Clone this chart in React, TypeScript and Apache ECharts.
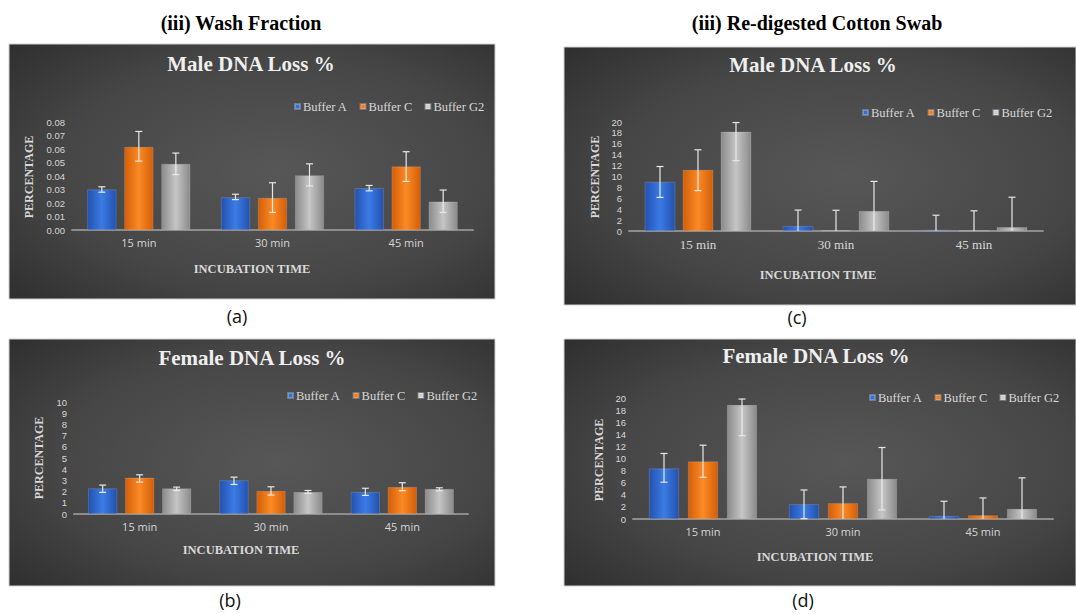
import React, { useEffect, useRef } from "react";
import * as echarts from "echarts";

// ---------- DATA ----------
const categories = ["15 min", "30 min", "45 min"];
const seriesNames = ["Buffer A", "Buffer C", "Buffer G2"];

// (a) Wash Fraction - Male DNA Loss %
const aBufferA = [0.03, 0.0242, 0.031];
const aBufferC = [0.0615, 0.0237, 0.047];
const aBufferG2 = [0.049, 0.0405, 0.021];
const aErrA = [[0.028, 0.032], [0.0225, 0.0265], [0.029, 0.033]];
const aErrC = [[0.051, 0.073], [0.013, 0.035], [0.036, 0.058]];
const aErrG2 = [[0.041, 0.057], [0.0326, 0.049], [0.013, 0.0296]];

// (b) Wash Fraction - Female DNA Loss %
const bBufferA = [2.28, 3.0, 1.96];
const bBufferC = [3.23, 2.05, 2.4];
const bBufferG2 = [2.28, 1.96, 2.23];
const bErrA = [[1.93, 2.58], [2.64, 3.29], [1.66, 2.3]];
const bErrC = [[2.85, 3.5], [1.69, 2.43], [2.08, 2.79]];
const bErrG2 = [[2.1, 2.4], [1.84, 2.1], [2.08, 2.34]];

// (c) Re-digested Cotton Swab - Male DNA Loss %
const cBufferA = [9.02, 0.9, 0.2];
const cBufferC = [11.2, 0.1, 0.05];
const cBufferG2 = [18.2, 3.66, 0.7];
const cErrA = [[6.16, 11.83], [0, 3.84], [0, 2.9]];
const cErrC = [[7.4, 14.9], [0, 3.8], [0, 3.7]];
const cErrG2 = [[12.9, 19.9], [0, 9.1], [0, 6.2]];

// (d) Re-digested Cotton Swab - Female DNA Loss %
const dBufferA = [8.34, 2.43, 0.5];
const dBufferC = [9.5, 2.6, 0.6];
const dBufferG2 = [18.84, 6.63, 1.66];
const dErrA = [[6.08, 10.83], [0.05, 4.8], [0, 2.93]];
const dErrC = [[6.9, 12.2], [0, 5.3], [0, 3.48]];
const dErrG2 = [[13.76, 19.83], [1.5, 11.82], [0, 6.8]];

const yTicksA = { max: 0.08, interval: 0.01, digits: 2 };
const yTicksB = { max: 10, interval: 1, digits: 0 };
const yTicksC = { max: 20, interval: 2, digits: 0 };
const yTicksD = { max: 20, interval: 2, digits: 0 };

// ---------- STYLE ----------
const SERIF = "'Liberation Serif', 'Times New Roman', serif";
const SANS = "'Open Sans', 'Noto Sans', sans-serif";
const TICKSANS = "'Liberation Sans', Arial, sans-serif";

const barFill = (edge: string, mid: string) =>
  new echarts.graphic.LinearGradient(0, 0, 1, 0, [
    { offset: 0, color: edge },
    { offset: 0.5, color: mid },
    { offset: 1, color: edge },
  ]);

const colorsEdge = ["#2352b0", "#d45e08", "#8a8a8a"];
const colorsMid = ["#3b7be4", "#fb8a26", "#c6c6c6"];
const legendColors = ["#3070da", "#f47b1c", "#cfcfcf"];

type Panel = {
  grid: { left: number; top: number; width: number; height: number };
  box: { x: number; y: number; w: number; h: number };
  values: number[][];
  errs: number[][][];
  ticks: { max: number; interval: number; digits: number };
  barWidth: number;
  gapPx: number;
  legendLeft: number;
  legendTop: number;
  xLabelSerif: boolean;
  xLabelSize: number;
  title: string;
  titlePos: [number, number];
  yName: [number, number];
  xName: [number, number];
  label: string;
  labelPos: [number, number];
};

const panels: Panel[] = [
  {
    grid: { left: 72, top: 122, width: 401, height: 108 },
    box: { x: 9, y: 44, w: 486, h: 255 },
    values: [aBufferA, aBufferC, aBufferG2],
    errs: [aErrA, aErrC, aErrG2],
    ticks: yTicksA,
    barWidth: 29,
    gapPx: 8,
    legendLeft: 289,
    legendTop: 95,
    xLabelSerif: false,
    xLabelSize: 11,
    title: "Male DNA Loss %",
    titlePos: [251, 64],
    yName: [29, 177],
    xName: [252, 269],
    label: "(a)",
    labelPos: [237, 316],
  },
  {
    grid: { left: 74, top: 402, width: 394, height: 112 },
    box: { x: 9, y: 339, w: 486, h: 247 },
    values: [bBufferA, bBufferC, bBufferG2],
    errs: [bErrA, bErrC, bErrG2],
    ticks: yTicksB,
    barWidth: 29,
    gapPx: 8,
    legendLeft: 282,
    legendTop: 384,
    xLabelSerif: false,
    xLabelSize: 11,
    title: "Female DNA Loss %",
    titlePos: [252, 358],
    yName: [39, 458],
    xName: [241, 550],
    label: "(b)",
    labelPos: [230, 600],
  },
  {
    grid: { left: 629, top: 122, width: 414, height: 109 },
    box: { x: 564, y: 47, w: 512, h: 258 },
    values: [cBufferA, cBufferC, cBufferG2],
    errs: [cErrA, cErrC, cErrG2],
    ticks: yTicksC,
    barWidth: 30.5,
    gapPx: 7.5,
    legendLeft: 857,
    legendTop: 101,
    xLabelSerif: true,
    xLabelSize: 13,
    title: "Male DNA Loss %",
    titlePos: [813, 65],
    yName: [595, 177],
    xName: [818, 275],
    label: "(c)",
    labelPos: [797, 317],
  },
  {
    grid: { left: 633, top: 398, width: 420, height: 121 },
    box: { x: 564, y: 339, w: 512, h: 247 },
    values: [dBufferA, dBufferC, dBufferG2],
    errs: [dErrA, dErrC, dErrG2],
    ticks: yTicksD,
    barWidth: 30,
    gapPx: 9,
    legendLeft: 864,
    legendTop: 386,
    xLabelSerif: false,
    xLabelSize: 11,
    title: "Female DNA Loss %",
    titlePos: [816, 356],
    yName: [599, 460],
    xName: [815, 557],
    label: "(d)",
    labelPos: [803, 600],
  },
];

function buildOption() {
  const grid: any[] = [];
  const xAxis: any[] = [];
  const yAxis: any[] = [];
  const series: any[] = [];
  const legend: any[] = [];
  const elements: any[] = [];

  panels.forEach((p, gi) => {
    grid.push({ ...p.grid, containLabel: false });
    xAxis.push({
      type: "category",
      gridIndex: gi,
      data: categories,
      axisLine: { lineStyle: { color: "#8c8c8c", width: 2 } },
      axisTick: { show: false },
      axisLabel: {
        color: "#d6d6d6",
        fontFamily: p.xLabelSerif ? SERIF : SANS,
        fontSize: p.xLabelSize,
        margin: 7,
      },
    });
    yAxis.push({
      type: "value",
      gridIndex: gi,
      min: 0,
      max: p.ticks.max,
      interval: p.ticks.interval,
      splitLine: { show: false },
      axisLine: { show: false },
      axisTick: { show: false },
      axisLabel: {
        color: "#d6d6d6",
        fontFamily: TICKSANS,
        fontSize: 9.5,
        lineHeight: 10,
        margin: 7,
        formatter: (v: number) => v.toFixed(p.ticks.digits),
      },
    });
    const pitch = p.barWidth + p.gapPx;
    seriesNames.forEach((name, k) => {
      series.push({
        type: "bar",
        name,
        xAxisIndex: gi,
        yAxisIndex: gi,
        data: p.values[k],
        barWidth: p.barWidth,
        barGap: `${(p.gapPx / p.barWidth) * 100}%`,
        itemStyle: {
          color: barFill(colorsEdge[k], colorsMid[k]),
          borderColor: "rgba(255,255,255,0.25)",
          borderWidth: 0.6,
        },
        z: 3,
      });
      const offset = (k - 1) * pitch;
      series.push({
        type: "custom",
        name: name + " error",
        xAxisIndex: gi,
        yAxisIndex: gi,
        data: p.errs[k].map((e, i) => [i, e[0], e[1]]),
        encode: { x: 0, y: [1, 2] },
        z: 5,
        renderItem: (params: any, api: any) => {
          const i = api.value(0);
          const lo = api.value(1);
          const hi = api.value(2);
          const t = api.coord([i, hi]);
          const b = api.coord([i, lo]);
          const x = t[0] + offset;
          const cap = 3.5;
          const st = { stroke: "#e8e8e8", lineWidth: 1.2 };
          const children: any[] = [
            { type: "line", shape: { x1: x, y1: t[1], x2: x, y2: b[1] }, style: st },
            { type: "line", shape: { x1: x - cap, y1: t[1], x2: x + cap, y2: t[1] }, style: st },
          ];
          if (lo > 0) {
            children.push({
              type: "line",
              shape: { x1: x - cap, y1: b[1], x2: x + cap, y2: b[1] },
              style: st,
            });
          }
          return { type: "group", children };
        },
      });
    });
    legend.push({
      left: p.legendLeft,
      top: p.legendTop,
      orient: "horizontal",
      icon: "rect",
      itemWidth: 5,
      itemHeight: 5,
      itemGap: 12,
      textStyle: { color: "#d8d8d8", fontFamily: SERIF, fontSize: 12.5, padding: [0, 0, 0, -2] },
      data: seriesNames.map((n, k) => ({ name: n, itemStyle: { color: legendColors[k] } })),
      selectedMode: false,
    });

    elements.push({
      type: "rect",
      z: -10,
      shape: { x: p.box.x, y: p.box.y, width: p.box.w, height: p.box.h },
      style: {
        fill: new echarts.graphic.RadialGradient(0.55, 0.5, 0.75, [
          { offset: 0, color: "#575757" },
          { offset: 0.6, color: "#464646" },
          { offset: 1, color: "#2e2e2e" },
        ]),
        stroke: "#cfcfcf",
        lineWidth: 1,
      },
    });
    elements.push({
      type: "text",
      z: 1,
      x: p.titlePos[0],
      y: p.titlePos[1],
      style: {
        text: p.title,
        fill: "#efefef",
        font: `bold 21px ${SERIF}`,
        align: "center",
        verticalAlign: "middle",
      },
    });
    elements.push({
      type: "text",
      z: 1,
      x: p.yName[0],
      y: p.yName[1],
      rotation: Math.PI / 2,
      style: {
        text: "PERCENTAGE",
        fill: "#d8d8d8",
        font: `bold 12px ${SERIF}`,
        align: "center",
        verticalAlign: "middle",
      },
    });
    elements.push({
      type: "text",
      z: 1,
      x: p.xName[0],
      y: p.xName[1],
      style: {
        text: "INCUBATION TIME",
        fill: "#d8d8d8",
        font: `bold 12.5px ${SERIF}`,
        align: "center",
        verticalAlign: "middle",
      },
    });
    elements.push({
      type: "text",
      z: 1,
      x: p.labelPos[0],
      y: p.labelPos[1],
      style: {
        text: p.label,
        fill: "#111111",
        font: `18px ${SANS}`,
        align: "center",
        verticalAlign: "middle",
      },
    });
  });

  elements.push({
    type: "text",
    x: 241,
    y: 23,
    style: {
      text: "(iii) Wash Fraction",
      fill: "#000000",
      font: `bold 20px ${SERIF}`,
      align: "center",
      verticalAlign: "middle",
    },
  });
  elements.push({
    type: "text",
    x: 817,
    y: 23,
    style: {
      text: "(iii) Re-digested Cotton Swab",
      fill: "#000000",
      font: `bold 20px ${SERIF}`,
      align: "center",
      verticalAlign: "middle",
    },
  });

  return {
    animation: false,
    backgroundColor: "#ffffff",
    grid,
    xAxis,
    yAxis,
    series,
    legend,
    graphic: { elements },
  };
}

export default function App() {
  const ref = useRef<HTMLDivElement>(null);
  useEffect(() => {
    if (!ref.current) return;
    const chart = echarts.init(ref.current, undefined, { renderer: "svg" });
    chart.setOption(buildOption() as any);
    return () => chart.dispose();
  }, []);
  return (
    <div
      ref={ref}
      style={{ position: "fixed", left: 0, top: 0, width: 1076, height: 614, background: "#fff" }}
    />
  );
}
